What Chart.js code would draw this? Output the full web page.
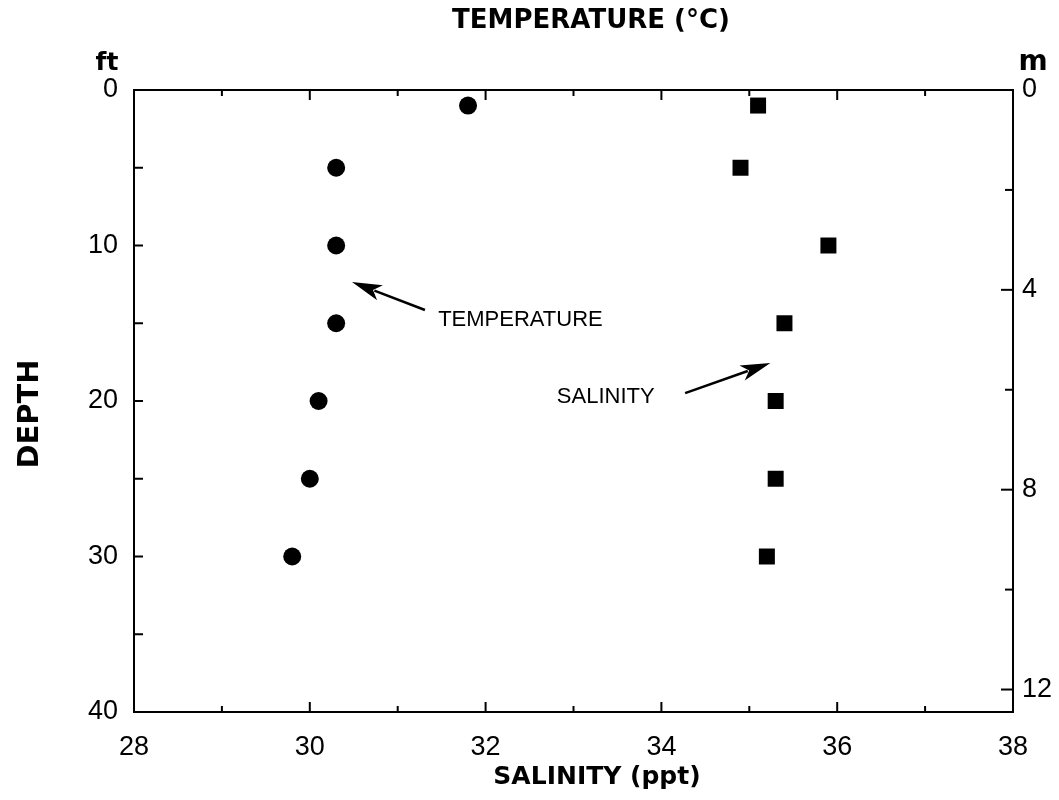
<!DOCTYPE html>
<html>
<head>
<meta charset="utf-8">
<script src="https://cdn.jsdelivr.net/npm/chart.js@4.4.1/dist/chart.umd.min.js"></script>
<style>
  body { margin: 0; background: #fff; }
  canvas { display: block; }
</style>
</head>
<body>
<canvas id="perfil" width="1059" height="800"></canvas>
<script>
// sampling depths (ft) and the readings at each one
const depths = [1, 5, 10, 15, 20, 25, 30];
const temperature = [31.8, 30.3, 30.3, 30.3, 30.1, 30.0, 29.8];
const salinity = [35.1, 34.9, 35.9, 35.4, 35.3, 35.3, 35.2];

// axis ticks
const xTicks = [28, 29, 30, 31, 32, 33, 34, 35, 36, 37, 38];
const xLabels = [28, 30, 32, 34, 36, 38];
const ftTicks = [0, 5, 10, 15, 20, 25, 30, 35, 40];
const ftLabels = [0, 10, 20, 30, 40];
const mTicks = [0, 2, 4, 6, 8, 10, 12];
const mLabels = [0, 4, 8, 12];

const tickFont = { family: '"Liberation Sans", Arial, sans-serif', size: 27 };

const setTicks = (list) => (scale) => { scale.ticks = list.map(v => ({ value: v })); };
const showOnly = (list) => (v) => list.includes(v) ? String(v) : '';

// inward tick marks on all four sides
const tickMarks = {
  id: 'tickMarks',
  afterDraw(chart) {
    const c = chart.ctx;
    const a = chart.chartArea;
    c.save();
    c.strokeStyle = '#000';
    c.lineWidth = 2;
    const s = chart.scales;
    xTicks.forEach(v => {
      const len = xLabels.includes(v) ? 10 : 6;
      const px = s.x.getPixelForValue(v);
      c.beginPath();
      c.moveTo(px, a.bottom); c.lineTo(px, a.bottom - len);
      c.moveTo(px, a.top); c.lineTo(px, a.top + len);
      c.stroke();
    });
    ftTicks.forEach(v => {
      const py = s.y.getPixelForValue(v);
      c.beginPath();
      c.moveTo(a.left, py); c.lineTo(a.left + 9, py);
      c.stroke();
    });
    mTicks.forEach(v => {
      const len = mLabels.includes(v) ? 12 : 8;
      const py = s.yM.getPixelForValue(v);
      c.beginPath();
      c.moveTo(a.right, py); c.lineTo(a.right - len, py);
      c.stroke();
    });
    c.restore();
  }
};

// axis titles, unit labels and the two arrow callouts
const callouts = [
  { text: 'TEMPERATURE', tx: 31.46, ty: 14.8, from: [31.31, 14.15], to: [30.48, 12.35], xAxis: 'xTop' },
  { text: 'SALINITY', tx: 32.81, ty: 19.74, from: [34.27, 19.49], to: [35.24, 17.56], xAxis: 'x' }
];

const labels = {
  id: 'labels',
  afterDraw(chart) {
    const c = chart.ctx;
    const s = chart.scales;
    c.save();
    c.fillStyle = '#000';
    c.strokeStyle = '#000';
    c.textBaseline = 'middle';
    c.textAlign = 'center';

    c.font = 'bold 26px "DejaVu Sans"';
    c.fillText('TEMPERATURE (°C)', 591, 21);
    c.font = 'bold 25px "DejaVu Sans"';
    c.fillText('SALINITY (ppt)', 597, 777);
    c.font = 'bold 25px "DejaVu Sans"';
    c.fillText('ft', 107, 63);
    c.font = 'bold 28px "DejaVu Sans"';
    c.fillText('m', 1033, 63);

    c.save();
    c.translate(30, 414);
    c.rotate(-Math.PI / 2);
    c.font = 'bold 29px "DejaVu Sans"';
    c.fillText('DEPTH', 0, 0);
    c.restore();

    c.font = '22px "Liberation Sans"';
    c.textAlign = 'left';
    callouts.forEach(o => {
      const xs = s[o.xAxis];
      c.fillText(o.text, xs.getPixelForValue(o.tx), s.y.getPixelForValue(o.ty));
      const x1 = xs.getPixelForValue(o.from[0]), y1 = s.y.getPixelForValue(o.from[1]);
      const x2 = xs.getPixelForValue(o.to[0]), y2 = s.y.getPixelForValue(o.to[1]);
      const ang = Math.atan2(y2 - y1, x2 - x1);
      const head = 30, half = 8;
      c.lineWidth = 2.5;
      c.beginPath();
      c.moveTo(x1, y1);
      c.lineTo(x2 - Math.cos(ang) * head * 0.8, y2 - Math.sin(ang) * head * 0.8);
      c.stroke();
      c.beginPath();
      c.moveTo(x2, y2);
      c.lineTo(x2 - Math.cos(ang) * head - Math.sin(ang) * half, y2 - Math.sin(ang) * head + Math.cos(ang) * half);
      c.lineTo(x2 - Math.cos(ang) * head * 0.75, y2 - Math.sin(ang) * head * 0.75);
      c.lineTo(x2 - Math.cos(ang) * head + Math.sin(ang) * half, y2 - Math.sin(ang) * head - Math.cos(ang) * half);
      c.closePath();
      c.fill();
    });
    c.restore();
  }
};

const frame = { display: true, color: '#000', width: 2 };

new Chart(document.getElementById('perfil'), {
  type: 'scatter',
  data: {
    datasets: [
      {
        label: 'Temperature',
        data: depths.map((d, i) => ({ x: temperature[i], y: d })),
        xAxisID: 'xTop',
        yAxisID: 'y',
        pointStyle: 'circle',
        pointRadius: 9,
        backgroundColor: '#000',
        borderColor: '#000',
        borderWidth: 0
      },
      {
        label: 'Salinity',
        data: depths.map((d, i) => ({ x: salinity[i], y: d })),
        xAxisID: 'x',
        yAxisID: 'y',
        pointStyle: 'rect',
        pointRadius: 11.3,
        backgroundColor: '#000',
        borderColor: '#000',
        borderWidth: 0
      }
    ]
  },
  options: {
    responsive: false,
    animation: false,
    layout: { padding: 0 },
    plugins: { legend: { display: false }, tooltip: { enabled: false } },
    scales: {
      x: {
        type: 'linear', position: 'bottom', min: 28, max: 38,
        afterBuildTicks: setTicks(xTicks),
        afterFit: (sc) => { sc.height = 88; },
        ticks: { autoSkip: false, maxRotation: 0, padding: 19, color: '#000', font: tickFont, callback: showOnly(xLabels) },
        grid: { display: false, drawTicks: false },
        border: frame
      },
      xTop: {
        type: 'linear', position: 'top', min: 28, max: 38,
        afterBuildTicks: setTicks(xTicks),
        afterFit: (sc) => { sc.height = 90; },
        ticks: { display: false },
        grid: { display: false, drawTicks: false },
        border: frame
      },
      y: {
        type: 'linear', position: 'left', min: 0, max: 40, reverse: true,
        afterBuildTicks: setTicks(ftTicks),
        afterFit: (sc) => { sc.width = 134; },
        ticks: { autoSkip: false, padding: 16, color: '#000', font: tickFont, callback: showOnly(ftLabels) },
        grid: { display: false, drawTicks: false },
        border: frame
      },
      yM: {
        type: 'linear', position: 'right', min: 0, max: 12.45, reverse: true,
        afterBuildTicks: setTicks(mTicks),
        afterFit: (sc) => { sc.width = 46; },
        ticks: { autoSkip: false, padding: 9, color: '#000', font: tickFont, callback: showOnly(mLabels) },
        grid: { display: false, drawTicks: false },
        border: frame
      }
    }
  },
  plugins: [tickMarks, labels]
});
</script>
</body>
</html>
